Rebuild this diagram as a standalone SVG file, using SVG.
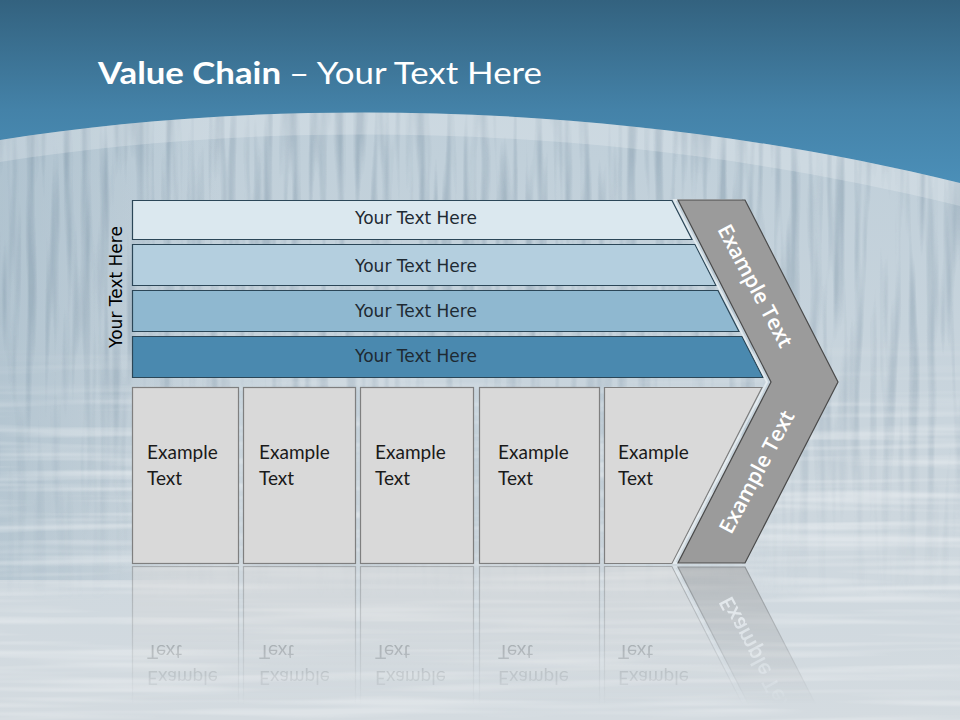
<svg xmlns="http://www.w3.org/2000/svg" xmlns:xlink="http://www.w3.org/1999/xlink" width="960" height="720" viewBox="0 0 960 720">
<defs>
<linearGradient id="bgLight" x1="0" y1="0" x2="0" y2="1">
<stop offset="0" stop-color="#bccdd8"/>
<stop offset="0.45" stop-color="#c6d3dc"/>
<stop offset="1" stop-color="#d4dbe0"/>
</linearGradient>
<linearGradient id="bgBlue" x1="0" y1="0" x2="0" y2="1">
<stop offset="0" stop-color="#33627f"/>
<stop offset="0.6" stop-color="#4482a8"/>
<stop offset="1" stop-color="#4b8fb8"/>
</linearGradient>
<linearGradient id="leftShade" x1="0" y1="0" x2="1" y2="0">
<stop offset="0" stop-color="#9fb6c5" stop-opacity="0.5"/>
<stop offset="1" stop-color="#9fb6c5" stop-opacity="0"/>
</linearGradient>
<linearGradient id="vFade" x1="0" y1="110" x2="0" y2="600" gradientUnits="userSpaceOnUse">
<stop offset="0" stop-color="#fff" stop-opacity="1"/>
<stop offset="0.5" stop-color="#fff" stop-opacity="0.8"/>
<stop offset="1" stop-color="#fff" stop-opacity="0"/>
</linearGradient>
<linearGradient id="hFade" x1="0" y1="330" x2="0" y2="720" gradientUnits="userSpaceOnUse">
<stop offset="0" stop-color="#fff" stop-opacity="0"/>
<stop offset="0.35" stop-color="#fff" stop-opacity="0.9"/>
<stop offset="1" stop-color="#fff" stop-opacity="0.6"/>
</linearGradient>
<mask id="vMask" maskUnits="userSpaceOnUse" x="0" y="110" width="960" height="490">
<rect x="0" y="110" width="960" height="490" fill="url(#vFade)"/>
</mask>
<mask id="hMask" maskUnits="userSpaceOnUse" x="0" y="330" width="960" height="390">
<rect x="0" y="330" width="960" height="390" fill="url(#hFade)"/>
</mask>
<linearGradient id="fadeGrad" x1="0" y1="565" x2="0" y2="705" gradientUnits="userSpaceOnUse">
<stop offset="0" stop-color="#fff" stop-opacity="0.5"/>
<stop offset="1" stop-color="#fff" stop-opacity="0"/>
</linearGradient>
<mask id="fadeMask" maskUnits="userSpaceOnUse" x="0" y="560" width="960" height="160">
<rect x="0" y="560" width="960" height="160" fill="url(#fadeGrad)"/>
</mask>
<filter id="vStreak" x="0" y="0" width="100%" height="100%" color-interpolation-filters="sRGB">
<feTurbulence type="fractalNoise" baseFrequency="0.11 0.006" numOctaves="2" seed="4"/>
<feColorMatrix type="matrix" values="0 0 0 0 0.42  0 0 0 0 0.52  0 0 0 0 0.60  3.2 0 0 0 -1.45"/>
</filter>
<filter id="hStreak" x="0" y="0" width="100%" height="100%" color-interpolation-filters="sRGB">
<feTurbulence type="fractalNoise" baseFrequency="0.004 0.12" numOctaves="2" seed="9"/>
<feColorMatrix type="matrix" values="0 0 0 0 1  0 0 0 0 1  0 0 0 0 1  3.4 0 0 0 -1.5"/>
</filter>
<style>
.bar{stroke:#2b4657;stroke-width:1.2}
.barText{font-family:"DejaVu Sans",sans-serif;font-size:17px;fill:#1e2a33;text-anchor:middle}
.sideText{font-family:"DejaVu Sans",sans-serif;font-size:17px;fill:#000000;text-anchor:middle}
.box{fill:#d9d9d9;stroke:#7f7f7f;stroke-width:1.2}
.boxText{font-family:Lato,"Open Sans",sans-serif;font-size:19px;fill:#1a1a1a}
.chev{fill:#9b9b9b;stroke:#4a4a4a;stroke-width:1.2}
.chevText{font-family:"Open Sans",sans-serif;font-weight:600;font-size:21px;fill:#ffffff;text-anchor:middle}
.title{font-family:Lato,"Open Sans",sans-serif;font-size:31px;fill:#ffffff}
</style>
</defs>

<!-- background -->
<rect x="0" y="0" width="960" height="720" fill="url(#bgLight)"/>
<g id="texture">
<rect x="0" y="120" width="220" height="460" fill="url(#leftShade)"/>
<g mask="url(#vMask)"><rect x="0" y="110" width="960" height="490" filter="url(#vStreak)" opacity="0.35"/></g>
<g mask="url(#hMask)"><rect x="0" y="330" width="960" height="390" filter="url(#hStreak)" opacity="0.4"/></g>
</g>

<!-- top band and arc -->
<path d="M0,0 H960 V183 C600,95 250,100 0,140 Z" fill="url(#bgBlue)"/>
<path d="M0,140 C250,100 600,95 960,183 V206 C600,117 250,122 0,162 Z" fill="#ffffff" opacity="0.2"/>

<!-- title -->
<g id="title">
<text class="title" x="98" y="84" font-weight="700" textLength="183" lengthAdjust="spacingAndGlyphs">Value Chain</text>
<text class="title" x="289" y="84" textLength="253" lengthAdjust="spacingAndGlyphs">– Your Text Here</text>
</g>

<!-- vertical label -->
<g id="sideLabel">
<text class="sideText" transform="translate(122,287) rotate(-90)" x="0" y="0">Your Text Here</text>
</g>

<!-- bars -->
<g id="bar1">
<polygon class="bar" points="132.5,200.5 672,200.5 692,239.5 132.5,239.5" fill="#dbe8ef"/>
<text class="barText" x="416" y="224">Your Text Here</text>
</g>
<g id="bar2">
<polygon class="bar" points="132.5,244.5 695,244.5 716,285.5 132.5,285.5" fill="#b4cfdf"/>
<text class="barText" x="416" y="272">Your Text Here</text>
</g>
<g id="bar3">
<polygon class="bar" points="132.5,290.5 718,290.5 739,331.5 132.5,331.5" fill="#8fb8d0"/>
<text class="barText" x="416" y="317">Your Text Here</text>
</g>
<g id="bar4">
<polygon class="bar" points="132.5,336.5 742,336.5 763,377.5 132.5,377.5" fill="#4a89af"/>
<text class="barText" x="416" y="362">Your Text Here</text>
</g>

<!-- boxes -->
<g id="boxes">
<g id="box1">
<rect class="box" x="132.5" y="387.5" width="106" height="176"/>
<text class="boxText" x="147" y="459">Example</text>
<text class="boxText" x="147" y="485">Text</text>
</g>
<g id="box2">
<rect class="box" x="243.5" y="387.5" width="112" height="176"/>
<text class="boxText" x="259" y="459">Example</text>
<text class="boxText" x="259" y="485">Text</text>
</g>
<g id="box3">
<rect class="box" x="360.5" y="387.5" width="113" height="176"/>
<text class="boxText" x="375" y="459">Example</text>
<text class="boxText" x="375" y="485">Text</text>
</g>
<g id="box4">
<rect class="box" x="479.5" y="387.5" width="120" height="176"/>
<text class="boxText" x="498" y="459">Example</text>
<text class="boxText" x="498" y="485">Text</text>
</g>
<g id="box5">
<polygon class="box" points="604.5,387.5 762,387.5 672,563.5 604.5,563.5"/>
<text class="boxText" x="618" y="459">Example</text>
<text class="boxText" x="618" y="485">Text</text>
</g>
</g>

<!-- chevron -->
<g id="chevron">
<polygon points="674,200 741,200 834,382 741,563 674,563 767,382" fill="none" stroke="#eef3f6" stroke-width="2" opacity="0.7"/>
<polygon class="chev" points="678,200 745,200 838,382 745,563 678,563 771,382"/>
<text class="chevText" transform="translate(755,286) rotate(62)" x="0" y="7">Example Text</text>
<text class="chevText" transform="translate(757,472) rotate(-62)" x="0" y="7">Example Text</text>
</g>

<!-- reflection -->
<g id="reflection" mask="url(#fadeMask)">
<g transform="matrix(1,0,0,-1,0,1130)">
<use xlink:href="#boxes" href="#boxes"/>
<use xlink:href="#chevron" href="#chevron"/>
</g>
</g>
</svg>
